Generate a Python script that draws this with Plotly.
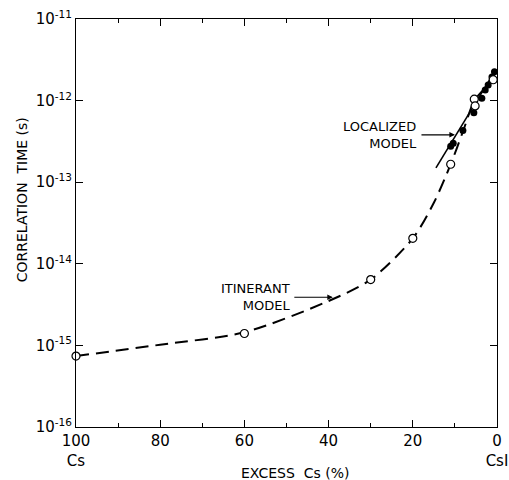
import plotly.graph_objects as go
import numpy as np

# Open circles (data)
open_x = [100, 60, 30, 20, 11, 5.4, 5.2, 0.9]
open_y = [7.4e-16, 1.4e-15, 6.4e-15, 2.05e-14, 1.66e-13, 1.04e-12, 8.6e-13, 1.8e-12]

# Filled circles (data)
filled_x = [0.6, 1.2, 2.1, 2.8, 3.6, 5.5, 8.1, 10.4, 11.0]
filled_y = [2.25e-12, 1.95e-12, 1.55e-12, 1.35e-12, 1.07e-12, 7.1e-13, 4.3e-13, 3.0e-13, 2.75e-13]

# Itinerant model (dashed curve)
itin_x = [100, 80, 60, 40, 30, 20, 15, 11, 8, 5.4, 3, 1]
itin_y = [7.4e-16, 1.02e-15, 1.45e-15, 3.5e-15, 6.4e-15, 2.05e-14, 5.6e-14, 1.66e-13, 4.3e-13, 1.0e-12, 1.4e-12, 1.85e-12]

# Localized model (solid line)
loc_x = [14.5, 0.5]
loc_y = [1.5e-13, 2.3e-12]

x_tickvals = [100, 80, 60, 40, 20, 0]
x_ticktext = ["100<br>Cs", "80", "60", "40", "20", "0<br>CsI"]
y_tickvals = [1e-16, 1e-15, 1e-14, 1e-13, 1e-12, 1e-11]
y_ticktext = ["10<sup>-16</sup>", "10<sup>-15</sup>", "10<sup>-14</sup>",
              "10<sup>-13</sup>", "10<sup>-12</sup>", "10<sup>-11</sup>"]

FONT = "DejaVu Sans"
fig = go.Figure()

fig.add_trace(go.Scatter(x=itin_x, y=itin_y, mode="lines",
                         line=dict(color="black", width=2, dash="13px,7px", shape="spline", smoothing=0.8),
                         hoverinfo="skip", showlegend=False))
fig.add_trace(go.Scatter(x=loc_x, y=loc_y, mode="lines",
                         line=dict(color="black", width=1.6),
                         hoverinfo="skip", showlegend=False))
fig.add_trace(go.Scatter(x=filled_x, y=filled_y, mode="markers",
                         marker=dict(symbol="circle", size=7, color="black"),
                         showlegend=False))
fig.add_trace(go.Scatter(x=open_x, y=open_y, mode="markers",
                         marker=dict(symbol="circle", size=8, color="white",
                                     line=dict(color="black", width=1.2)),
                         showlegend=False, cliponaxis=False))

fig.update_xaxes(range=[100, 0], tickvals=x_tickvals, ticktext=x_ticktext,
                 automargin=False,
                 showline=True, linecolor="black", linewidth=1.2, mirror="ticks",
                 ticks="inside", ticklen=7, tickcolor="black", tickwidth=1,
                 minor=dict(tickvals=[90, 70, 50, 30, 10], ticks="inside", ticklen=4,
                            tickcolor="black", tickwidth=1),
                 showgrid=False, zeroline=False,
                 tickfont=dict(family=FONT, size=15, color="black"))
fig.update_yaxes(type="log", range=[-16, -11], tickvals=y_tickvals, ticktext=y_ticktext,
                 automargin=False,
                 showline=True, linecolor="black", linewidth=1.2, mirror="ticks",
                 ticks="inside", ticklen=7, tickcolor="black", tickwidth=1,
                 showgrid=False, zeroline=False,
                 tickfont=dict(family=FONT, size=15, color="black"))

annots = [
    dict(x=48.7, y=-14.41, xref="x", yref="y", text="ITINERANT<br>MODEL",
         showarrow=False, xanchor="right", yanchor="middle", align="right",
         font=dict(family=FONT, size=13, color="black")),
    dict(x=39, y=-14.41, xref="x", yref="y", ax=48.5, ay=-14.41, axref="x", ayref="y",
         text="", showarrow=True, arrowhead=2, arrowsize=1, arrowwidth=1.1, arrowcolor="black"),
    dict(x=18.5, y=-12.42, xref="x", yref="y", text="LOCALIZED<br>MODEL",
         showarrow=False, xanchor="right", yanchor="middle", align="right",
         font=dict(family=FONT, size=13, color="black")),
    dict(x=10.0, y=-12.42, xref="x", yref="y", ax=18.3, ay=-12.42, axref="x", ayref="y",
         text="", showarrow=True, arrowhead=2, arrowsize=1, arrowwidth=1.1, arrowcolor="black"),
    dict(x=-0.128, y=0.556, xref="paper", yref="paper", text="CORRELATION  TIME (s)",
         textangle=-90, showarrow=False, xanchor="center", yanchor="middle",
         font=dict(family=FONT, size=14, color="black")),
    dict(x=0.52, y=-0.112, xref="paper", yref="paper", text="EXCESS  Cs (%)",
         showarrow=False, xanchor="center", yanchor="middle",
         font=dict(family=FONT, size=14, color="black")),
]
fig.update_layout(width=509, height=480, margin=dict(l=76, r=12, t=19, b=53),
                  paper_bgcolor="white", plot_bgcolor="white", annotations=annots,
                  showlegend=False)

fig.write_html("out.html")
